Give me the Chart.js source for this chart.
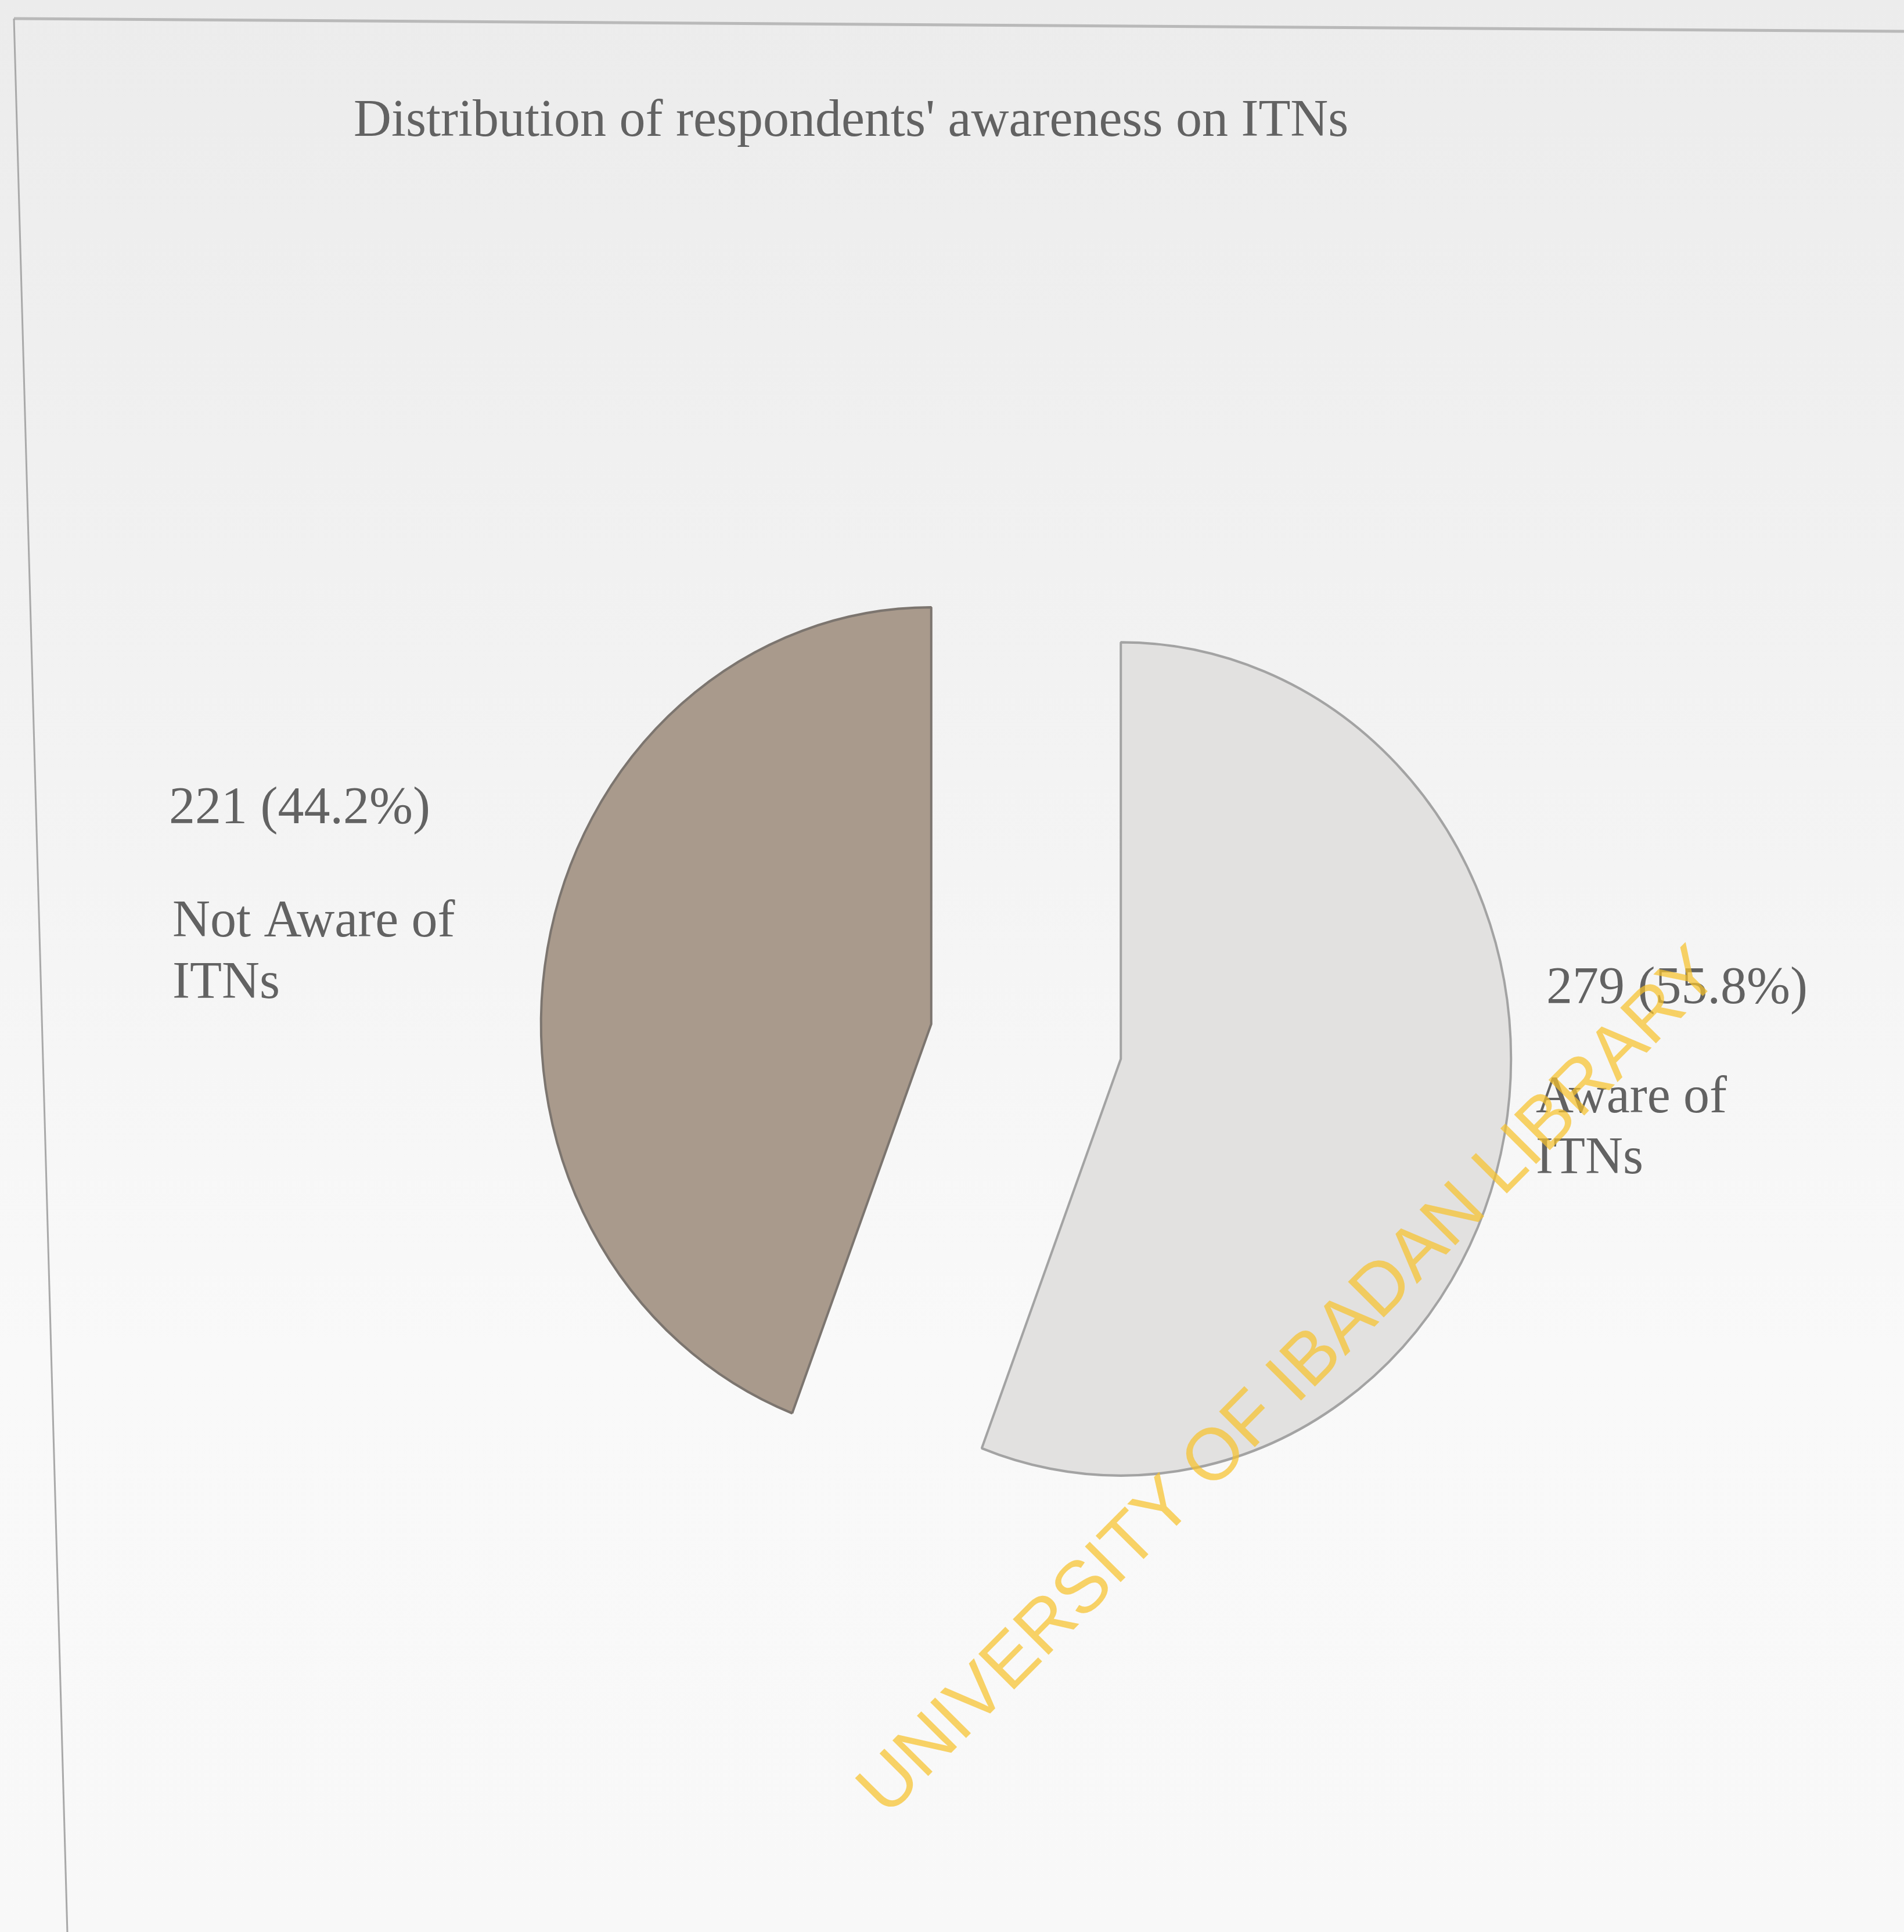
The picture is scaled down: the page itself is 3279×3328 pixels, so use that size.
<!DOCTYPE html>
<html>
<head>
<meta charset="utf-8">
<title>Distribution of respondents' awareness on ITNs</title>
<script src="https://cdn.jsdelivr.net/npm/chart.js@4.4.1/dist/chart.umd.min.js"></script>
<style>
    html, body { margin: 0; padding: 0; background: #f2f2f2; overflow: hidden; }
    #wrap { width: 3279px; height: 3328px; }
</style>
</head>
<body>
<div id="wrap"><canvas id="myChart" width="3279" height="3328"></canvas></div>
<script>
// Chart data
const categories = ['Aware of ITNs', 'Not Aware of ITNs'];
const labelLines = [['Aware of', 'ITNs'], ['Not Aware of', 'ITNs']];
const counts = [279, 221];
const sliceColors = ['#e2e1e0', '#a99a8c'];
const borderColors = ['#a3a3a3', '#7c756f'];
const titleText = "Distribution of respondents' awareness on ITNs";
const watermarkText = 'UNIVERSITY OF IBADAN LIBRARY';

const total = counts.reduce((a, b) => a + b, 0);
const serif = "'Liberation Serif', 'Times New Roman', serif";
const textColor = '#626262';

// the printed pie is a bit taller than wide
const pieStretch = 1.068;

// where the outside labels sit (value line, then the name lines)
const labelSpots = [
    { vx: 2663, vy: 1728, nx: 2645, ny: 1916, lh: 105 },
    { vx: 291, vy: 1418, nx: 297, ny: 1613, lh: 106 },
];

// Arc that is pulled out by exactly `offset` px along its middle angle
// (the stock arc also grows and narrows the slice when offset is set)
class ExplodedArc extends Chart.ArcElement {
    static id = 'explodedArc';
    draw(ctx) {
        const opts = this.options;
        const shift = opts.offset || 0;
        const mid = (this.startAngle + this.endAngle) / 2;
        ctx.save();
        ctx.translate(this.x + Math.cos(mid) * shift, this.y + Math.sin(mid) * shift);
        ctx.scale(1, pieStretch);
        ctx.translate(-this.x, -this.y);
        this.options = Object.assign({}, opts, { offset: 0 });
        super.draw(ctx);
        this.options = opts;
        ctx.restore();
    }
}

class ExplodedPie extends Chart.PieController {
    static id = 'explodedPie';
    static defaults = Object.assign({}, Chart.PieController.defaults, { dataElementType: 'explodedArc' });
}

Chart.register(ExplodedArc, ExplodedPie);

// scanned page look: grey paper, edge lines
const pageBackground = {
    id: 'pageBackground',
    beforeDraw(chart) {
        const ctx = chart.ctx;
        const w = chart.width, h = chart.height;
        ctx.save();
        const grad = ctx.createLinearGradient(0, 0, 0, h);
        grad.addColorStop(0, '#ececec');
        grad.addColorStop(0.35, '#f2f2f2');
        grad.addColorStop(0.7, '#f9f9f9');
        grad.addColorStop(1, '#f8f8f8');
        ctx.fillStyle = grad;
        ctx.fillRect(0, 0, w, h);
        ctx.strokeStyle = '#b9b9b9';
        ctx.lineWidth = 5;
        ctx.beginPath();
        ctx.moveTo(24, 32);
        ctx.lineTo(w, 54);
        ctx.stroke();
        ctx.lineWidth = 3;
        ctx.strokeStyle = '#a9a9a9';
        ctx.beginPath();
        ctx.moveTo(24, 32);
        ctx.lineTo(116, h);
        ctx.stroke();
        ctx.restore();
    }
};

// value + name labels next to each slice
const sliceLabels = {
    id: 'sliceLabels',
    afterDatasetsDraw(chart) {
        const ctx = chart.ctx;
        ctx.save();
        ctx.fillStyle = textColor;
        ctx.font = '90px ' + serif;
        ctx.textBaseline = 'alphabetic';
        ctx.textAlign = 'left';
        counts.forEach((v, i) => {
            const spot = labelSpots[i];
            const pct = (v / total * 100).toFixed(1);
            ctx.fillText(v + ' (' + pct + '%)', spot.vx, spot.vy);
            labelLines[i].forEach((line, j) => {
                ctx.fillText(line, spot.nx, spot.ny + j * spot.lh);
            });
        });
        ctx.restore();
    }
};

// library stamp across the page
const watermark = {
    id: 'watermark',
    afterDraw(chart) {
        const ctx = chart.ctx;
        ctx.save();
        ctx.translate(2222, 2382);
        ctx.rotate(-45.2 * Math.PI / 180);
        ctx.font = "126px 'Liberation Sans', Arial, sans-serif";
        ctx.textAlign = 'center';
        ctx.textBaseline = 'middle';
        ctx.fillStyle = 'rgba(246, 194, 44, 0.72)';
        ctx.fillText(watermarkText, 0, 0);
        ctx.restore();
    }
};

var myChart = new Chart(document.getElementById('myChart'), {
    type: 'explodedPie',
    data: {
        labels: categories,
        datasets: [{
            data: counts,
            backgroundColor: sliceColors,
            borderColor: borderColors,
            borderWidth: 4,
            offset: [166, 166],
            radius: 672,
        }]
    },
    options: {
        responsive: false,
        animation: false,
        events: [],
        rotation: 0,
        layout: {
            padding: { left: 609, right: 354, top: 100, bottom: 44 }
        },
        plugins: {
            legend: { display: false },
            tooltip: { enabled: false },
            title: {
                display: true,
                text: titleText,
                align: 'start',
                color: textColor,
                font: { family: serif, size: 90, weight: 'normal', lineHeight: 1.2 },
                padding: { top: 56, bottom: 40 }
            }
        }
    },
    plugins: [pageBackground, sliceLabels, watermark]
});
</script>
</body>
</html>
